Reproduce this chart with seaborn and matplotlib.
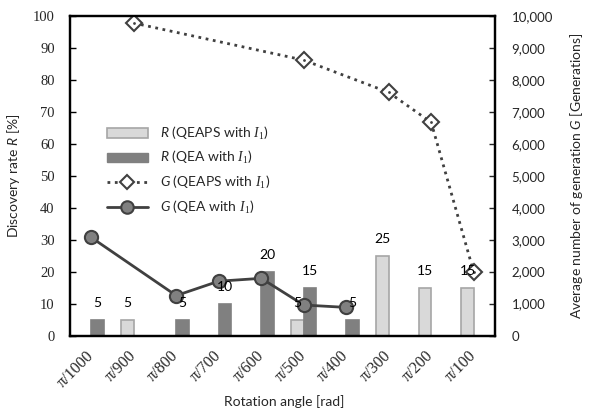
import numpy as np
import pandas as pd
import matplotlib
matplotlib.use("Agg")
import matplotlib.pyplot as plt
from matplotlib.patches import Patch
from matplotlib.lines import Line2D
import seaborn as sns

# ---- data ----
categories = ["π/1000", "π/900", "π/800", "π/700", "π/600",
              "π/500", "π/400", "π/300", "π/200", "π/100"]
R_qeaps = [np.nan, 5, np.nan, np.nan, np.nan, 5, np.nan, 25, 15, 15]
R_qea = [5, np.nan, 5, 10, 20, 15, 5, np.nan, np.nan, np.nan]
G_qeaps = [np.nan, 9780, np.nan, np.nan, np.nan, 8620, np.nan, 7610, 6670, 1990]
G_qea = [3070, np.nan, 1250, 1700, 1790, 955, 880, np.nan, np.nan, np.nan]
series = ["QEAPS", "QEA"]
left_ticks = [0, 10, 20, 30, 40, 50, 60, 70, 80, 90, 100]
right_ticks = [0, 1000, 2000, 3000, 4000, 5000, 6000, 7000, 8000, 9000, 10000]

sns.set_style("white")
plt.rcParams["font.family"] = ["Lato", "DejaVu Sans"]
plt.rcParams["mathtext.fontset"] = "custom"
plt.rcParams["mathtext.it"] = "Lato:italic"
plt.rcParams["mathtext.rm"] = "Liberation Serif"
plt.rcParams["mathtext.cal"] = "Liberation Serif:italic"

LIGHT = "#d9d9d9"
LIGHT_EDGE = "#a6a6a6"
DARK = "#808080"
LINE = "#404040"

df = pd.DataFrame({
    "cat": categories * 2,
    "series": [series[0]] * len(categories) + [series[1]] * len(categories),
    "R": R_qeaps + R_qea,
})

fig = plt.figure(figsize=(5.89, 4.17), dpi=100)
ax = fig.add_axes([0.1188, 0.1954, 0.7215, 0.7662])

sns.barplot(data=df, x="cat", y="R", hue="series", order=categories,
            hue_order=series, palette={"QEAPS": LIGHT, "QEA": DARK},
            width=0.58, errorbar=None, legend=False, ax=ax, linewidth=1.2)
for cont, ec in zip(ax.containers, [LIGHT_EDGE, DARK]):
    for p in cont:
        p.set_edgecolor(ec)

ax.set_ylim(0, 100)
ax.set_xlim(-0.5, len(categories) - 0.5)
ax.set_yticks(left_ticks)
ax.set_yticklabels([str(t) for t in left_ticks], fontfamily="Liberation Serif", fontsize=10.5)
ax.set_xticks(range(len(categories)))
ax.set_xticklabels(categories, rotation=45, ha="right", va="center",
                   rotation_mode="anchor", fontfamily="Liberation Serif", fontsize=11.5)
ax.tick_params(axis="x", length=0, pad=13)
ax.tick_params(axis="y", direction="in", length=4, width=1, color="#000000", pad=11)
ax.set_xlabel("Rotation angle [rad]", fontsize=10)
ax.xaxis.set_label_coords(0.505, -0.185)
ax.set_ylabel("Discovery rate $R$ [%]", fontsize=10)
ax.yaxis.set_label_coords(-0.112, 0.5)

ax2 = ax.twinx()
pos = np.arange(len(categories))
m1 = ~np.isnan(np.array(G_qeaps, dtype=float))
m2 = ~np.isnan(np.array(G_qea, dtype=float))
sns.lineplot(x=pos[m1], y=np.array(G_qeaps)[m1], ax=ax2, color=LINE,
             linestyle=":", linewidth=2, marker="D", markersize=8,
             markerfacecolor="white", markeredgecolor=LINE, markeredgewidth=1.5)
sns.lineplot(x=pos[m1], y=np.array(G_qeaps)[m1], ax=ax2, color=LINE,
             linestyle="none", marker="o", markersize=2, markeredgewidth=0)
sns.lineplot(x=pos[m2], y=np.array(G_qea)[m2], ax=ax2, color=LINE,
             linestyle="-", linewidth=2, marker="o", markersize=9.5,
             markerfacecolor=DARK, markeredgecolor=LINE, markeredgewidth=1.5)
ax2.set_ylim(0, 10000)
ax2.set_xlim(-0.5, len(categories) - 0.5)
ax2.set_yticks(right_ticks)
ax2.set_yticklabels([f"{t:,}" for t in right_ticks], fontsize=9.5)
ax2.tick_params(axis="y", direction="in", length=4, width=1, pad=12)
ax2.set_ylabel("Average number of generation $G$ [Generations]", fontsize=10)
ax2.yaxis.set_label_coords(1.172, 0.5)

# data labels
half = 0.145
for vals, off in [(R_qeaps, -half), (R_qea, half)]:
    for i, v in enumerate(vals):
        if not np.isnan(v):
            ax2.annotate(f"{int(v)}", xy=(i + off, v), xycoords=ax.transData,
                         xytext=(0, 12), textcoords="offset points",
                         ha="center", va="center", fontsize=10, color="#000000")

for a in (ax, ax2):
    for s in a.spines.values():
        s.set_visible(True)
        s.set_color("#000000")
        s.set_linewidth(1.6)

handles = [
    Patch(facecolor=LIGHT, edgecolor=LIGHT_EDGE, linewidth=1.2),
    Patch(facecolor=DARK, edgecolor=DARK),
    Line2D([], [], color=LINE, linestyle=":", linewidth=2, marker="D", markersize=7,
           markerfacecolor="white", markeredgecolor=LINE, markeredgewidth=1.5),
    Line2D([], [], color=LINE, linestyle="-", linewidth=2, marker="o", markersize=9,
           markerfacecolor=DARK, markeredgecolor=LINE, markeredgewidth=1.5),
]
labels = [
    r"$R$ (QEAPS with $\mathcal{I}_1$)",
    r"$R$ (QEA with $\mathcal{I}_1$)",
    r"$G$ (QEAPS with $\mathcal{I}_1$)",
    r"$G$ (QEA with $\mathcal{I}_1$)",
]
ax2.legend(handles, labels, loc="upper left", bbox_to_anchor=(101 / 589, 1 - 119 / 417),
           bbox_transform=fig.transFigure, frameon=False, fontsize=10,
           handlelength=3, handletextpad=0.85, labelspacing=0.55, borderaxespad=0)

fig.savefig("out.png", dpi=100)
